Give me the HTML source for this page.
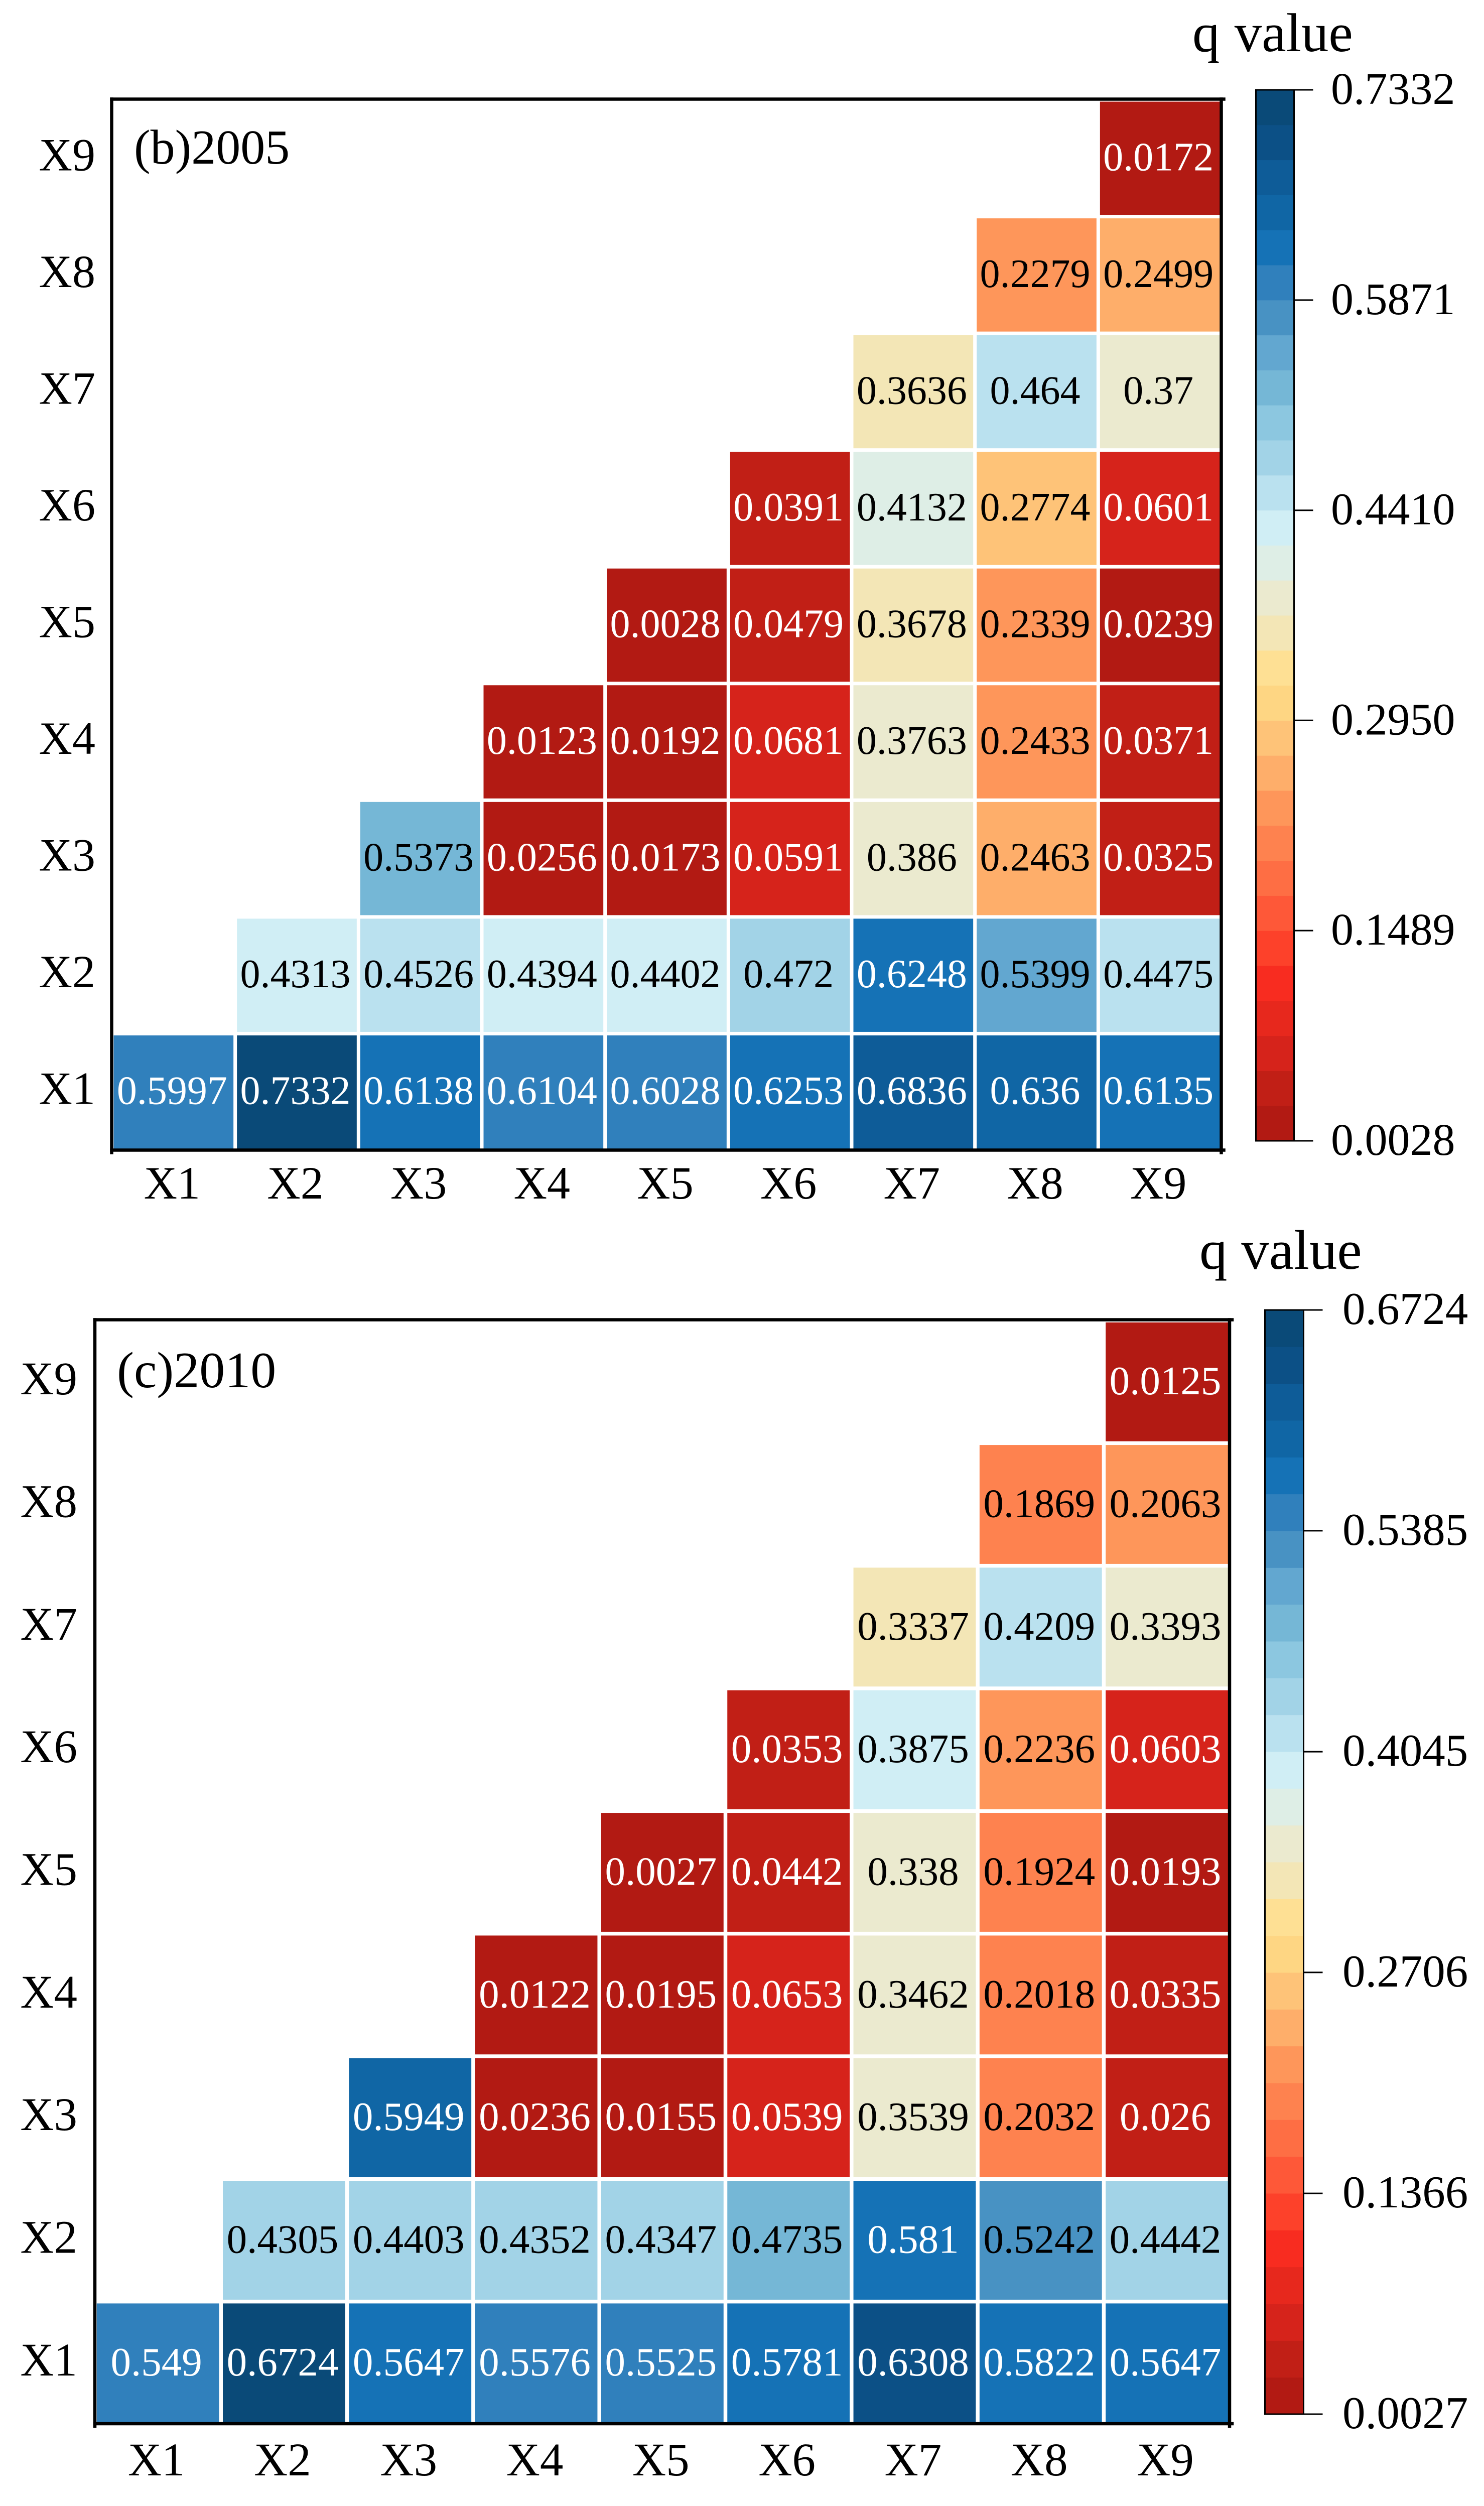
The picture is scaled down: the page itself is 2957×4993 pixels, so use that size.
<!DOCTYPE html>
<html lang="en">
<head>
<meta charset="utf-8">
<title>q value heatmaps 2005 and 2010</title>
<style>
html,body{margin:0;padding:0;background:#fff;}
svg{display:block;}
text{font-family:"Liberation Serif","Times New Roman",serif;}
</style>
</head>
<body>
<svg id="chart" xmlns="http://www.w3.org/2000/svg" width="2957" height="4993" viewBox="0 0 2957 4993"></svg>
<script>
// ---- data ----
const categories = ["X1","X2","X3","X4","X5","X6","X7","X8","X9"];

// rows listed from X1 upward; each row begins on the diagonal
const values2005 = [
  [0.5997,0.7332,0.6138,0.6104,0.6028,0.6253,0.6836,0.636,0.6135],
  [0.4313,0.4526,0.4394,0.4402,0.472,0.6248,0.5399,0.4475],
  [0.5373,0.0256,0.0173,0.0591,0.386,0.2463,0.0325],
  [0.0123,0.0192,0.0681,0.3763,0.2433,0.0371],
  [0.0028,0.0479,0.3678,0.2339,0.0239],
  [0.0391,0.4132,0.2774,0.0601],
  [0.3636,0.464,0.37],
  [0.2279,0.2499],
  [0.0172]
];
const values2010 = [
  [0.549,0.6724,0.5647,0.5576,0.5525,0.5781,0.6308,0.5822,0.5647],
  [0.4305,0.4403,0.4352,0.4347,0.4735,0.581,0.5242,0.4442],
  [0.5949,0.0236,0.0155,0.0539,0.3539,0.2032,0.026],
  [0.0122,0.0195,0.0653,0.3462,0.2018,0.0335],
  [0.0027,0.0442,0.338,0.1924,0.0193],
  [0.0353,0.3875,0.2236,0.0603],
  [0.3337,0.4209,0.3393],
  [0.1869,0.2063],
  [0.0125]
];
const colorTicks2005 = ["0.0028","0.1489","0.2950","0.4410","0.5871","0.7332"];
const colorTicks2010 = ["0.0027","0.1366","0.2706","0.4045","0.5385","0.6724"];

// colour scale, low to high
const palette = [
  "#b21a13","#c11f16","#d6231b","#e7281d","#f82c20","#fd412a","#fe5838","#fe6e44","#fe824f","#fe965a",
  "#feae6a","#fec378","#fed683","#fee094","#f3e6b6","#ebeacf","#deeee6","#d0eef5","#bae1ef","#a2d3e7",
  "#8cc7e0","#75b7d6","#62a7d0","#4892c3","#3080bc","#1572b6","#1066a5","#0e5c98","#0c5086","#0a4a78"
];

// ---- drawing ----
const NS = "http://www.w3.org/2000/svg";
const svg = document.getElementById("chart");

function make(tag, attrs, parent) {
  const el = document.createElementNS(NS, tag);
  for (const k in attrs) el.setAttribute(k, attrs[k]);
  parent.appendChild(el);
  return el;
}
function label(parent, x, y, str, size, anchor, fill) {
  const el = make("text", {x: x, y: y, "font-size": size, "text-anchor": anchor, fill: fill}, parent);
  el.textContent = str;
  return el;
}

function drawPanel(p) {
  const g = make("g", {}, svg);
  
  

  const n = categories.length;
  const stepX = (p.bandX[1] - p.bandX[0]) / n;
  const stepY = (p.bandY[1] - p.bandY[0]) / n;
  const xScale = i => p.bandX[0] + i * stepX;
  const yScale = i => p.bandY[1] - (i + 1) * stepY;
  const vMin = Math.min(...p.values.flat());
  const vMax = Math.max(...p.values.flat());
  const frac = v => (v - vMin) / (vMax - vMin);
  const colorOf = v => palette[Math.min(palette.length - 1, Math.floor(frac(v) * palette.length))];
  const textColorOf = v => (frac(v) < 0.2 || frac(v) > 0.8) ? "#ffffff" : "#000000";

  // heatmap cells
  p.values.forEach((row, r) => {
    row.forEach((v, k) => {
      const c = r + k;
      const cell = make("rect", {
        x: xScale(c) + p.gap / 2, y: yScale(r) + p.gap / 2,
        width: stepX - p.gap, height: stepY - p.gap, fill: colorOf(v)
      }, g);
      
      
      const t = label(g, xScale(c) + stepX / 2 - 3, yScale(r) + stepY / 2 + p.valueDy, String(v), p.valueSize, "middle", textColorOf(v));
      
      
    });
  });

  // frame
  const f = p.frame;
  const sw = 6.5, over = 5;
  const frameTop = make("line", {x1: f.l - sw / 2, x2: f.r + sw / 2 + over, y1: f.t, y2: f.t, stroke: "#000", "stroke-width": sw}, g);
  
  
  const frameBottom = make("line", {x1: f.l - sw / 2, x2: f.r + sw / 2 + over, y1: f.b, y2: f.b, stroke: "#000", "stroke-width": sw}, g);
  
  
  const frameLeft = make("line", {x1: f.l, x2: f.l, y1: f.t - sw / 2, y2: f.b + sw / 2 + over, stroke: "#000", "stroke-width": sw}, g);
  
  
  const frameRight = make("line", {x1: f.r, x2: f.r, y1: f.t - sw / 2, y2: f.b + sw / 2 + over, stroke: "#000", "stroke-width": sw}, g);
  
  

  // axis labels
  categories.forEach((name, i) => {
    const xl = label(g, xScale(i) + stepX / 2 - 3, p.xLabelY, name, p.axisSize, "middle", "#000");
    
    
    const yl = label(g, p.yLabelX, yScale(i) + stepY / 2 + p.yLabelDy, name, p.axisSize, "end", "#000");
    
    
  });

  // panel title
  const title = label(g, p.titleX, p.titleY, p.title, p.titleSize, "start", "#000");
  
  

  // colorbar
  const cb = p.bar;
  const cbY = v => cb.bottom - frac(v) * (cb.bottom - cb.top);
  const segments = palette.length;
  palette.forEach((color, k) => {
    const lo = vMin + (vMax - vMin) * k / segments;
    const hi = vMin + (vMax - vMin) * (k + 1) / segments;
    const seg = make("rect", {x: cb.x, y: cbY(hi), width: cb.w, height: cbY(lo) - cbY(hi) + 0.5, fill: color}, g);
    
    
  });
  const cbBox = make("rect", {x: cb.x, y: cb.top, width: cb.w, height: cb.bottom - cb.top, fill: "none", stroke: "#000", "stroke-width": 3}, g);
  
  

  p.ticks.forEach(tick => {
    const y = cbY(parseFloat(tick));
    const tl = make("line", {x1: cb.x + cb.w, x2: cb.x + cb.w + 38, y1: y, y2: y, stroke: "#000", "stroke-width": 3}, g);
    
    
    const tt = label(g, cb.labelX, y + 28, tick, cb.labelSize, "start", "#000");
    
    
  });

  const cbTitle = label(g, cb.titleX, cb.titleY, "q value", cb.titleSize, "start", "#000");
  cbTitle.setAttribute('word-spacing', cb.wordSpacing);
  
  
}

drawPanel({
  name: "panel-2005",
  title: "(b)2005",
  values: values2005,
  ticks: colorTicks2005,
  bandX: [223, 2434],
  bandY: [199, 2292],
  gap: 7,
  frame: {l: 222.5, r: 2433.5, t: 197.5, b: 2291.5},
  valueSize: 80, valueDy: 24,
  axisSize: 92, xLabelY: 2388, yLabelX: 190, yLabelDy: 24,
  titleX: 267, titleY: 326, titleSize: 98,
  bar: {x: 2502.5, w: 76, top: 179, bottom: 2273, labelX: 2652, labelSize: 90,
        titleX: 2376, titleY: 102, titleSize: 109, wordSpacing: 2}
});

drawPanel({
  name: "panel-2010",
  title: "(c)2010",
  values: values2010,
  ticks: colorTicks2010,
  bandX: [189, 2450.7],
  bandY: [2631, 4830],
  gap: 7.5,
  frame: {l: 189, r: 2450, t: 2629.5, b: 4829},
  valueSize: 81, valueDy: 25,
  axisSize: 93, xLabelY: 4932, yLabelX: 154, yLabelDy: 25,
  titleX: 233, titleY: 2764, titleSize: 102,
  bar: {x: 2520.5, w: 77, top: 2610, bottom: 4810, labelX: 2675, labelSize: 91,
        titleX: 2390, titleY: 2528, titleSize: 111, wordSpacing: 0}
});
</script>
</body>
</html>
